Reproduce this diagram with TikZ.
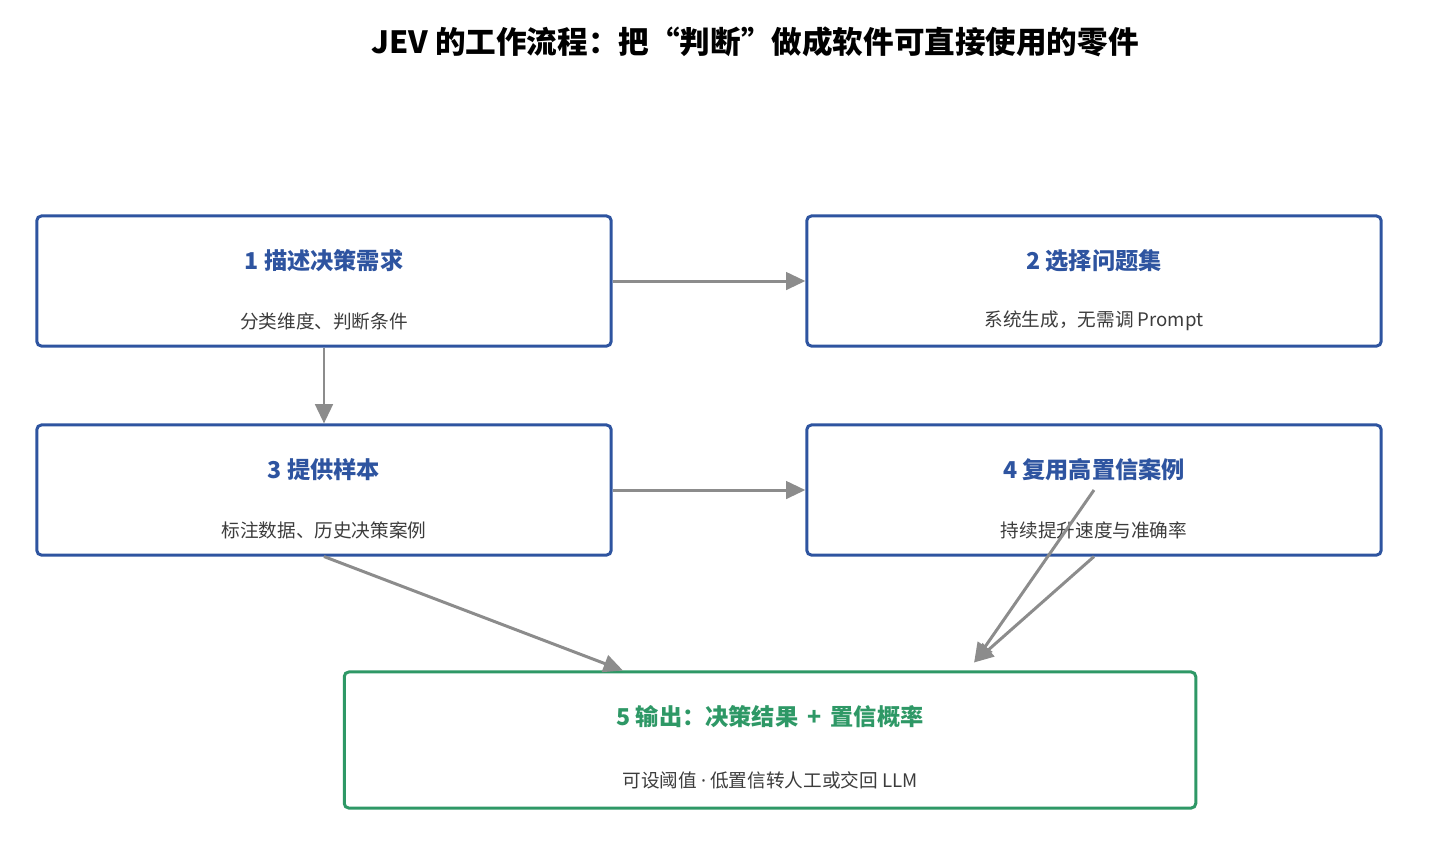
\documentclass[tikz,border=0pt]{standalone}
\usepackage{fontspec}
\setmainfont{Noto Sans CJK SC}
\newfontfamily\latinfont{Noto Sans}
\usetikzlibrary{arrows.meta}
\definecolor{stepblue}{RGB}{46,84,160}
\definecolor{stepgreen}{RGB}{46,152,102}
\definecolor{flowgray}{RGB}{140,140,140}
\definecolor{subgray}{RGB}{60,60,60}

\begin{document}
\begin{tikzpicture}[x=0.01cm, y=-0.01cm,
    stepbox/.style={draw=stepblue, line width=0.85pt, rounded corners=1.3pt, minimum width=5.74cm, minimum height=1.3cm, inner sep=0pt},
    outbox/.style={stepbox, draw=stepgreen, minimum width=8.51cm, minimum height=1.36cm},
    head/.style={font=\fontsize{6.6}{8}\selectfont\bfseries, text=stepblue},
    sub/.style={font=\fontsize{5.3}{7}\selectfont, text=subgray},
    flow/.style={draw=flowgray, line width=0.85pt, -{Triangle[length=5.5pt,width=5pt]}}]
    \useasboundingbox (0,0) rectangle (1439,847);
    \node[font=\fontsize{8.7}{10}\selectfont\bfseries] (title) at (755,42) {JEV 的工作流程：把“判断”做成软件可直接使用的零件};
    % steps
    \node[stepbox] (need) at (324,281) {};
    \node[head] (need-t) at (324,261) {1 描述决策需求};
    \node[sub] (need-s) at (324,321) {分类维度、判断条件};
    \node[stepbox] (qset) at (1094,281) {};
    \node[head] (qset-t) at (1094,261) {2 选择问题集};
    \node[sub] (qset-s) at (1094,321) {系统生成，无需调 Prompt};
    \node[stepbox] (sample) at (324,490) {};
    \node[head] (sample-t) at (324,470) {3 提供样本};
    \node[sub] (sample-s) at (324,530) {标注数据、历史决策案例};
    \node[stepbox] (reuse) at (1094,490) {};
    \node[head] (reuse-t) at (1094,470) {4 复用高置信案例};
    \node[sub] (reuse-s) at (1094,530) {持续提升速度与准确率};
    \node[outbox] (output) at (770,740) {};
    \node[head, text=stepgreen] (output-t) at (770,717) {5 输出：决策结果\,\ +\ \,置信概率};
    \node[sub] (output-s) at (770,780) {可设阈值 {\latinfont·} 低置信转人工或交回 LLM};
    % connectors
    \coordinate (in3) at ([xshift=2.8cm]output.north west);
    \coordinate (in4) at ([xshift=6.31cm, yshift=0.08cm]output.north west);
    \draw[flow] (need.east) -- (qset.west);
    \draw[flow] (need.south) -- (sample.north);
    \draw[flow] (sample.east) -- (reuse.west);
    \draw[flow] (sample.south) -- (in3);
    \draw[flow] (reuse.center) -- (in4);
    \draw[flow] (reuse.south) -- (in4);
\end{tikzpicture}
\end{document}
